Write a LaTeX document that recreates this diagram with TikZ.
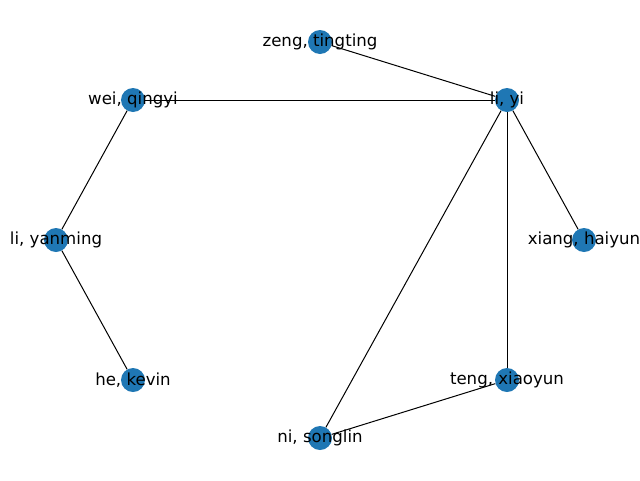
\documentclass[tikz,border=0pt]{standalone}
\usepackage{fontspec}
\setmainfont{DejaVu Sans}
\usepackage{xcolor}
\usetikzlibrary{positioning,backgrounds}
\definecolor{nodeblue}{RGB}{31,119,180}
\tikzset{vert/.style={circle,fill=nodeblue,minimum size=24,inner sep=0pt},
  vlab/.style={font=\fontsize{16.6}{19}\selectfont,inner sep=0pt,text=black},
  edge/.style={draw=black,line width=1pt}}

\begin{document}
\begin{tikzpicture}[x=1pt,y=-1pt]
      \useasboundingbox (0,0) rectangle (640,480);
      \node[vert] (zeng) at (320,42) {};
      \node[vert] (liyi) at (507,100) {};
      \node[vert] (xiang) at (584,240) {};
      \node[vert] (teng) at (507,380) {};
      \node[vert] (ni) at (320,438) {};
      \node[vert] (he) at (133,380) {};
      \node[vert] (liyan) at (56,240) {};
      \node[vert] (wei) at (133,100) {};
      \begin{pgfonlayer}{background}
      \draw[edge] (zeng) -- (liyi); \draw[edge] (wei) -- (liyi);
      \draw[edge] (wei) -- (liyan); \draw[edge] (liyan) -- (he);
      \draw[edge] (liyi) -- (xiang); \draw[edge] (liyi) -- (teng);
      \draw[edge] (liyi) -- (ni); \draw[edge] (teng) -- (ni);
      \end{pgfonlayer}
      \node[vlab] at (zeng) {zeng, tingting};
      \node[vlab] at (liyi) {li, yi};
      \node[vlab] at (xiang) {xiang, haiyun};
      \node[vlab] at (teng) {teng, xiaoyun};
      \node[vlab] at (ni) {ni, songlin};
      \node[vlab] at (he) {he, kevin};
      \node[vlab] at (liyan) {li, yanming};
      \node[vlab] at (wei) {wei, qingyi};
    \end{tikzpicture}
\end{document}
